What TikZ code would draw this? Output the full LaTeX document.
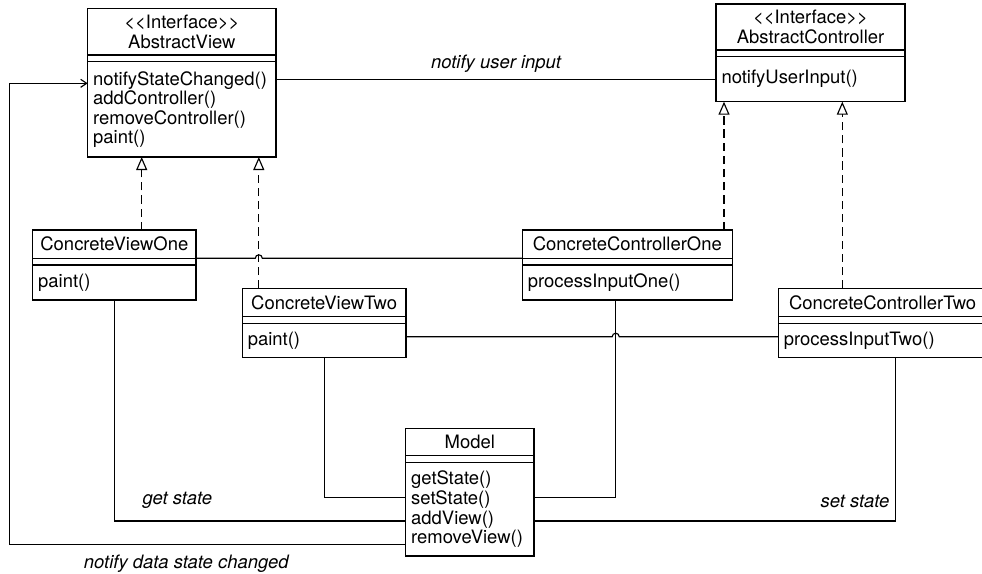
\documentclass[tikz,border=0pt]{standalone}
\usepackage{fontspec}
\setmainfont{TeX Gyre Heros}
\usetikzlibrary{arrows.meta, positioning}

\begin{document}
\begin{tikzpicture}[
    every node/.style={font=\fontsize{10.5}{11.2}\selectfont},
    head/.style={draw, outer sep=0pt, inner sep=0pt, align=center},
    bar/.style={draw, outer sep=0pt, inner sep=0pt, minimum height=0.134cm},
    ops/.style={draw, outer sep=0pt, inner xsep=0.11cm, inner ysep=0pt, align=left},
    lbl/.style={font=\fontsize{10.5}{11.2}\selectfont\itshape},
    real/.style={dash pattern=on 4.7pt off 2.8pt,
                 -{Triangle[open, length=0.26cm, width=0.22cm]}},
    fb/.style={-{Straight Barb[length=0.12cm, width=0.16cm]}},
    line width=0.65pt]
  \lineskiplimit=-5pt
  \useasboundingbox (0,0) rectangle (19.64,-11.46);

  % interfaces
  \node[head, minimum width=3.766cm, minimum height=0.934cm, anchor=north west]
    (avh) at (1.754,-0.166) {<{}<Interface>{}>\\AbstractView};
  \node[bar, minimum width=3.766cm, below=0cm of avh] (avb) {};
  \node[ops, text width=3.546cm, minimum height=1.906cm, below=0cm of avb,
        font=\fontsize{10.5}{9.35}\selectfont]
    (avo) {notifyStateChanged()\\addController()\\removeController()\\paint()};

  \node[head, minimum width=3.78cm, minimum height=0.92cm, anchor=north west]
    (ach) at (14.32,-0.08) {<{}<Interface>{}>\\AbstractController};
  \node[bar, minimum width=3.78cm, below=0cm of ach] (acb) {};
  \node[ops, text width=3.56cm, minimum height=0.9cm, below=0cm of acb]
    (aco) {notifyUserInput()};

  % views
  \node[head, minimum width=3.266cm, minimum height=0.566cm, anchor=north west]
    (cv1h) at (0.654,-4.6) {ConcreteViewOne};
  \node[bar, minimum width=3.266cm, below=0cm of cv1h] (cv1b) {};
  \node[ops, text width=3.046cm, minimum height=0.7cm, below=0cm of cv1b]
    (cv1o) {paint()};

  \node[head, minimum width=3.274cm, minimum height=0.568cm, anchor=north west]
    (cv2h) at (4.846,-5.766) {ConcreteViewTwo};
  \node[bar, minimum width=3.274cm, below=0cm of cv2h] (cv2b) {};
  \node[ops, text width=3.054cm, minimum height=0.688cm, below=0cm of cv2b]
    (cv2o) {paint()};

  % controllers
  \node[head, minimum width=4.2cm, minimum height=0.566cm, anchor=north west]
    (cc1h) at (10.446,-4.6) {ConcreteControllerOne};
  \node[bar, minimum width=4.2cm, below=0cm of cc1h] (cc1b) {};
  \node[ops, text width=3.98cm, minimum height=0.7cm, below=0cm of cc1b]
    (cc1o) {processInputOne()};

  \node[head, minimum width=4.174cm, minimum height=0.568cm, anchor=north west]
    (cc2h) at (15.566,-5.766) {ConcreteControllerTwo};
  \node[bar, minimum width=4.174cm, below=0cm of cc2h] (cc2b) {};
  \node[ops, text width=3.954cm, minimum height=0.688cm, below=0cm of cc2b]
    (cc2o) {processInputTwo()};

  % model
  \node[head, minimum width=2.566cm, minimum height=0.548cm, anchor=north west]
    (mdh) at (8.114,-8.566) {Model};
  \node[bar, minimum width=2.566cm, minimum height=0.14cm, below=0cm of mdh] (mdb) {};
  \node[ops, text width=2.346cm, minimum height=1.866cm, below=0cm of mdb]
    (mdo) {getState()\\setState()\\addView()\\removeView()};

  % helper points
  \coordinate (r1) at (2.834,0);
  \coordinate (r3) at (14.48,0);
  \coordinate (r4) at (16.846,0);
  \coordinate (h1) at (5.176,-5.166);
  \coordinate (h2) at (12.314,-6.734);
  \coordinate (yset) at (0,-9.954);
  \coordinate (yadd) at (0,-10.42);
  \coordinate (yrem) at (0,-10.886);
  \coordinate (xc2) at (17.914,-10.42);
  \coordinate (nt) at (0.186,-1.666);

  % realizations
  \draw[real] (cv1h.north -| r1) -- (avo.south -| r1);
  \draw[real] (cv2h.north -| h1) -- (avo.south -| h1);
  \draw[real] (cc1h.north -| r3) -- (aco.south -| r3);
  \draw[real] (cc2h.north -| r4) -- (aco.south -| r4);

  % associations
  \draw (avo.east |- aco.west) -- (aco.west)
    node[lbl, midway, above] {notify user input};
  \draw (cv1h.south east) -- ([xshift=-0.07cm]h1)
    arc[start angle=180, end angle=0, radius=0.07cm] -- (cc1h.south west);
  \draw (cv2o.east |- h2) -- ([xshift=-0.07cm]h2)
    arc[start angle=180, end angle=0, radius=0.07cm] -- (cc2o.west |- h2);
  \draw (cv1o.south) |- (mdo.west |- yadd)
    node[lbl, pos=0.608, above=0.116cm] {get state};
  \draw (cv2o.south) |- (mdo.west |- yset);
  \draw (cc1o.south -| h2) |- (mdo.east |- yset);
  \draw (mdo.east |- xc2) -- (xc2)
    node[lbl, above left=0.14cm and 0cm] {set state} -- (cc2o.south -| xc2);
  \draw[fb] (mdo.west |- yrem) -- (yrem -| nt)
    node[lbl, pos=0.5535, below=0.09cm] {notify data state changed}
    -- (nt) -- (avo.west |- nt);
\end{tikzpicture}
\end{document}
